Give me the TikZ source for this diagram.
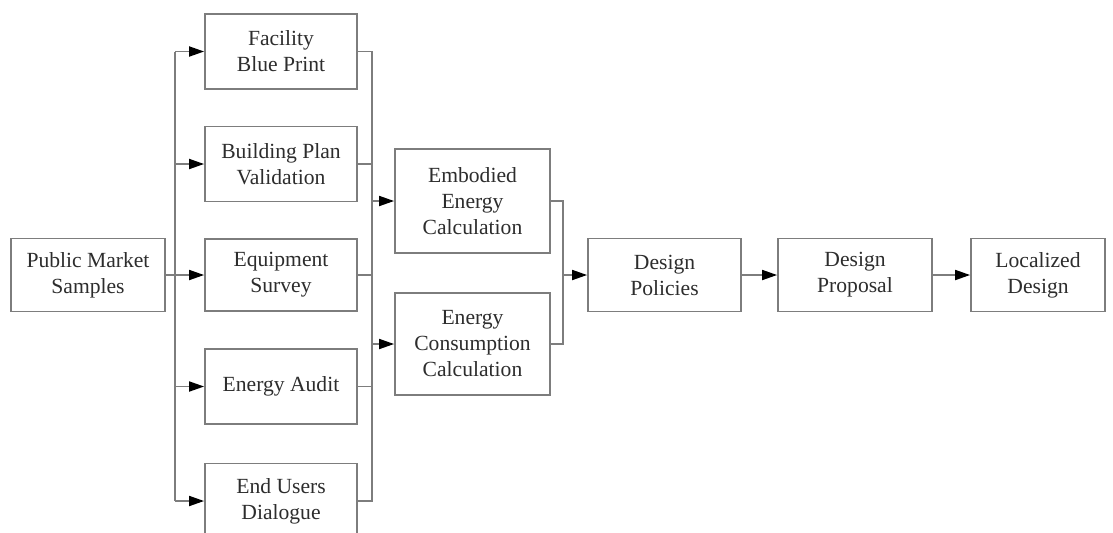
\documentclass[tikz,border=0pt]{standalone}
\usepackage{fontspec}
\setmainfont{Liberation Serif}
\usepackage{xcolor}
\usetikzlibrary{arrows.meta}

\definecolor{linegray}{RGB}{125,125,125}
\definecolor{textgray}{RGB}{45,45,45}

\tikzset{
  box/.style={draw=linegray, line width=0.9pt, fill=white, align=center, inner sep=1pt,
    minimum height=37.5pt, text=textgray, font=\fontsize{10.8}{13}\selectfont},
  link/.style={draw=linegray, line width=0.9pt},
  arr/.style={link, -{Triangle[length=7.5pt,width=5pt,color=black]}},
}

\begin{document}
\begin{tikzpicture}[x=0.5pt,y=0.5pt,yscale=-1,xscale=1]
\useasboundingbox (0,0) rectangle (1113,532);

% Source
\node[box, minimum width=77pt, minimum height=36.5pt] (pms) at (88,275) {Public Market\\Samples};

% Data collection column
\node[box, minimum width=76pt] (fac) at (281,51.5) {Facility\\Blue Print};
\node[box, minimum width=76pt] (bpv) at (281,164) {Building Plan\\Validation};
\node[box, minimum width=76pt, minimum height=36pt] (eqs) at (281,275) {Equipment\\Survey};
\node[box, minimum width=76pt] (ea) at (281,386.5) {Energy Audit};
\node[box, minimum width=76pt] (eud) at (281,501) {End Users\\Dialogue};

% Calculation column
\node[box, minimum width=77.5pt, minimum height=52pt] (emb) at (472.5,201) {Embodied\\Energy\\Calculation};
\node[box, minimum width=77.5pt, minimum height=51pt] (ecc) at (472.5,344) {Energy\\Consumption\\Calculation};

% Design chain
\node[box, minimum width=76.5pt, minimum height=36.5pt] (dp) at (664.5,275) {Design\\Policies};
\node[box, minimum width=77pt, minimum height=36.5pt] (prop) at (855,275) {Design\\Proposal};
\node[box, minimum width=67pt, minimum height=36.5pt] (loc) at (1038,275) {Localized\\Design};

% Bus points
\coordinate (lbus) at (175,275);
\coordinate (rbus) at (372,275);
\coordinate (mbus) at (563,275);

% Left bus
\draw[link] (fac.west -| lbus) -- (eud.west -| lbus);
\draw[arr] (pms.east) -- (eqs.west);
\foreach \n in {fac,bpv,ea,eud}
  \draw[arr] (\n.west -| lbus) -- (\n.west);

% Right bus
\draw[link] (fac.east) -- (fac.east -| rbus) -- (eud.east -| rbus) -- (eud.east);
\foreach \n in {bpv,eqs,ea}
  \draw[link] (\n.east) -- (\n.east -| rbus);
\draw[arr] (emb.west -| rbus) -- (emb.west);
\draw[arr] (ecc.west -| rbus) -- (ecc.west);

% Merge and chain
\draw[link] (emb.east) -| (mbus) |- (ecc.east);
\draw[arr] (mbus) -- (dp.west);
\draw[arr] (dp) -- (prop);
\draw[arr] (prop) -- (loc);

\end{tikzpicture}
\end{document}
